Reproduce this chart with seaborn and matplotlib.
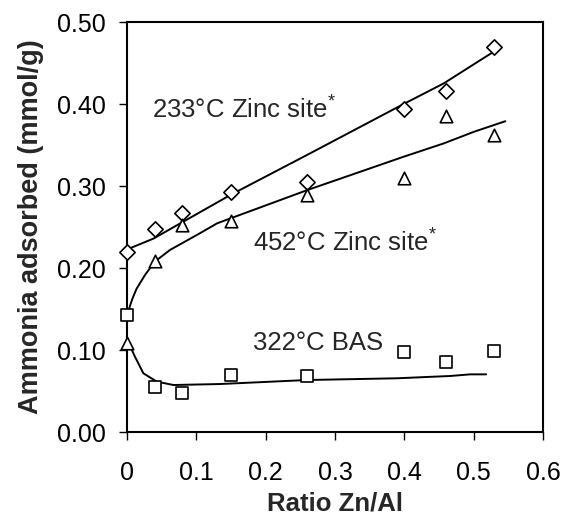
import matplotlib
matplotlib.use("Agg")
import matplotlib.pyplot as plt
import seaborn as sns

# --- data ---
ratio = [0.0, 0.04, 0.08, 0.15, 0.26, 0.40, 0.46, 0.53]
zinc233 = [0.219, 0.247, 0.267, 0.293, 0.305, 0.394, 0.416, 0.469]
zinc452 = [0.109, 0.208, 0.252, 0.257, 0.289, 0.310, 0.385, 0.362]
bas322 = [0.143, 0.055, 0.048, 0.070, 0.068, 0.097, 0.085, 0.099]

fit233_x = [0.0, 0.0385, 0.077, 0.149, 0.26, 0.399, 0.457, 0.51, 0.529]
fit233_y = [0.2226, 0.236, 0.2545, 0.289, 0.338, 0.400, 0.4252, 0.4537, 0.4638]
fit452_x = [0.001, 0.004, 0.008, 0.014, 0.026, 0.040, 0.062, 0.105, 0.13, 0.26, 0.399, 0.457, 0.50, 0.5457]
fit452_y = [0.143, 0.153, 0.163, 0.175, 0.1915, 0.2077, 0.222, 0.2423, 0.2545, 0.295, 0.3357, 0.352, 0.366, 0.379]
fit322_x = [0.0, 0.006, 0.0115, 0.0236, 0.043, 0.067, 0.134, 0.26, 0.389, 0.466, 0.495, 0.518]
fit322_y = [0.110, 0.102, 0.0918, 0.0716, 0.0614, 0.0573, 0.0585, 0.0634, 0.0655, 0.0683, 0.0703, 0.0703]

xticks = [0, 0.1, 0.2, 0.3, 0.4, 0.5, 0.6]
xtick_labels = ["0", "0.1", "0.2", "0.3", "0.4", "0.5", "0.6"]
yticks = [0.0, 0.1, 0.2, 0.3, 0.4, 0.5]
ytick_labels = ["0.00", "0.10", "0.20", "0.30", "0.40", "0.50"]

sns.set_style("ticks")
plt.rcParams["font.family"] = ["Liberation Sans", "DejaVu Sans"]
plt.rcParams["mathtext.fontset"] = "custom"
plt.rcParams["mathtext.rm"] = "Liberation Sans"
plt.rcParams["mathtext.default"] = "regular"

fig = plt.figure(figsize=(5.63, 5.24), dpi=100)
ax = fig.add_axes([127 / 563, 1 - 432 / 524, 416 / 563, 410 / 524])

lw = 1.4
for fx, fy in [(fit233_x, fit233_y), (fit452_x, fit452_y), (fit322_x, fit322_y)]:
    sns.lineplot(x=fx, y=fy, ax=ax, color="black", linewidth=lw, estimator=None, sort=False)

mk = dict(color="white", edgecolor="black", linewidth=1.2, clip_on=False, zorder=5, legend=False)
sns.scatterplot(x=ratio, y=zinc233, marker="D", s=7.8 ** 2, ax=ax, **mk)
sns.scatterplot(x=ratio, y=zinc452, marker="^", s=9.0 ** 2, ax=ax, **mk)
sns.scatterplot(x=ratio, y=bas322, marker="s", s=8.4 ** 2, ax=ax, **mk)

ax.set_xlim(0, 0.6)
ax.set_ylim(0, 0.5)
ax.set_xticks(xticks)
ax.set_xticklabels(xtick_labels)
ax.set_yticks(yticks)
ax.set_yticklabels(ytick_labels)
ax.tick_params(axis="both", direction="out", length=6, width=1, colors="black", labelsize=18)
ax.tick_params(axis="x", pad=15)
ax.tick_params(axis="y", pad=9)
for sp in ax.spines.values():
    sp.set_visible(True)
    sp.set_linewidth(1.5)
    sp.set_color("black")

ax.set_xlabel("Ratio Zn/Al", fontsize=18.5, fontweight="bold")
ax.set_ylabel("Ammonia adsorbed (mmol/g)", fontsize=19.5, fontweight="bold")
ax.xaxis.set_label_coords(0.5, -0.146)
ax.yaxis.set_label_coords(-0.20, 0.5)

ax.text(0.036, 0.393, "233°C Zinc site$^{*}$", fontsize=18.5, va="center", ha="left")
ax.text(0.182, 0.2305, "452°C Zinc site$^{*}$", fontsize=18.5, va="center", ha="left")
ax.text(0.182, 0.109, "322°C BAS", fontsize=18.5, va="center", ha="left")

fig.savefig("out.png", dpi=100)
